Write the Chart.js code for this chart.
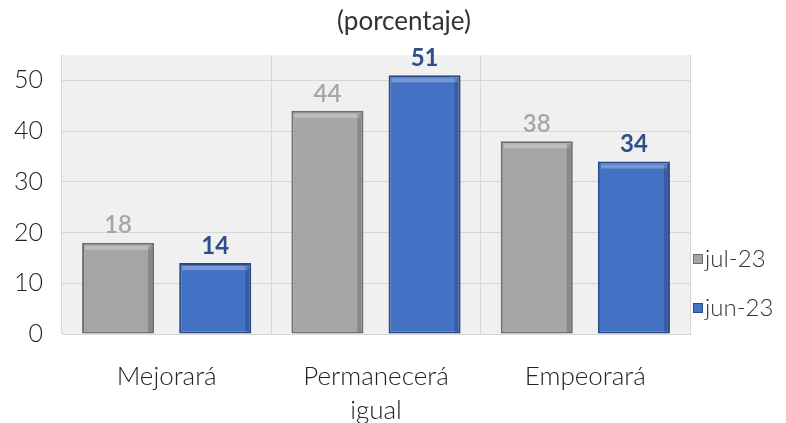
<!DOCTYPE html>
<html>
<head>
<meta charset="utf-8">
<script src="https://cdn.jsdelivr.net/npm/chart.js@4"></script>
<style>
html,body{margin:0;padding:0;background:#fff;}
#wrap{width:786px;height:423px;position:relative;}
</style>
</head>
<body>
<div id="wrap"><canvas id="c" width="786" height="423"></canvas></div>
<script>
const categories = [["Mejorará"], ["Permanecerá", "igual"], ["Empeorará"]];
const seriesNames = ["jul-23", "jun-23"];
const jul23 = [18, 44, 38];
const jun23 = [14, 51, 34];
const yTicks = [0, 10, 20, 30, 40, 50];
const titleText = "(porcentaje)";

const FONT = "'Lato', 'DejaVu Sans', sans-serif";
const colors = ['#a5a5a5', '#4472c4'];
const borders = ['#6f6f6f', '#2a4a85'];

const bgPlugin = {
  id: 'bg',
  beforeDraw(chart) {
    const {ctx, chartArea: a} = chart;
    ctx.save();
    ctx.fillStyle = '#f0f0f0';
    ctx.fillRect(a.left, a.top, a.right - a.left, a.bottom - a.top);
    ctx.restore();
  }
};

const decoPlugin = {
  id: 'deco',
  afterDatasetsDraw(chart) {
    const ctx = chart.ctx;
    chart.data.datasets.forEach((ds, i) => {
      const meta = chart.getDatasetMeta(i);
      meta.data.forEach((bar, j) => {
        const w = bar.width;
        const x0 = bar.x - w / 2, y0 = bar.y;
        ctx.save();
        ctx.fillStyle = 'rgba(255,255,255,0.28)';
        ctx.fillRect(x0 + 3, y0 + 3, w - 6, 4);
        ctx.fillStyle = 'rgba(0,0,0,0.18)';
        ctx.fillRect(x0 + w - 6, y0 + 3, 4, bar.base - y0 - 4);
        ctx.restore();
        ctx.save();
        ctx.font = (i === 1 ? 'bold ' : '600 ') + '24px ' + FONT;
        ctx.fillStyle = i === 0 ? '#a6a6a6' : '#2f4f8c';
        ctx.textAlign = 'center';
        ctx.textBaseline = 'bottom';
        ctx.fillText(String(ds.data[j]), bar.x, bar.y - 5);
        ctx.restore();
      });
    });
    // title
    ctx.save();
    ctx.font = '26px ' + FONT;
    ctx.fillStyle = '#333';
    ctx.textAlign = 'center';
    ctx.textBaseline = 'middle';
    ctx.fillText(titleText, 404, 22);
    ctx.restore();
    // legend
    const a = chart.chartArea;
    seriesNames.forEach((name, i) => {
      const y = 259 + i * 49;
      const bx = a.right + 3;
      ctx.save();
      ctx.fillStyle = colors[i];
      ctx.fillRect(bx, y - 5, 10, 10);
      ctx.strokeStyle = borders[i];
      ctx.lineWidth = 1;
      ctx.strokeRect(bx + 0.5, y - 4.5, 9, 9);
      ctx.fillStyle = '#333';
      ctx.font = '300 24px ' + FONT;
      ctx.textAlign = 'left';
      ctx.textBaseline = 'middle';
      ctx.fillText(name, bx + 12, y);
      ctx.restore();
    });
  }
};

new Chart(document.getElementById('c'), {
  type: 'bar',
  data: {
    labels: categories,
    datasets: [
      {label: seriesNames[0], data: jul23, backgroundColor: colors[0], borderColor: borders[0], borderWidth: 2, borderSkipped: false},
      {label: seriesNames[1], data: jun23, backgroundColor: colors[1], borderColor: borders[1], borderWidth: 2, borderSkipped: false}
    ]
  },
  options: {
    responsive: false,
    animation: false,
    layout: {padding: {top: 55, left: 0, right: 96, bottom: 0}},
    categoryPercentage: 0.928,
    barPercentage: 0.742,
    plugins: {
      title: {display: false},
      legend: {display: false},
      tooltip: {enabled: false}
    },
    scales: {
      x: {
        afterFit(s) { s.height = 89; },
        grid: {display: true, color: '#d6d6d6', offset: true, drawTicks: false},
        border: {display: true, color: '#d6d6d6'},
        ticks: {color: '#222', font: {family: FONT, size: 26, weight: 300, lineHeight: 1.3}, padding: 26}
      },
      y: {
        min: 0, max: 55,
        afterFit(s) { s.width = 62; },
        afterBuildTicks(axis) { axis.ticks = yTicks.map(v => ({value: v})); },
        grid: {color: '#d6d6d6', drawTicks: false},
        border: {display: false},
        ticks: {color: '#222', font: {family: FONT, size: 25, weight: 300}, padding: 19}
      }
    }
  },
  plugins: [bgPlugin, decoPlugin]
});
</script>
</body>
</html>
